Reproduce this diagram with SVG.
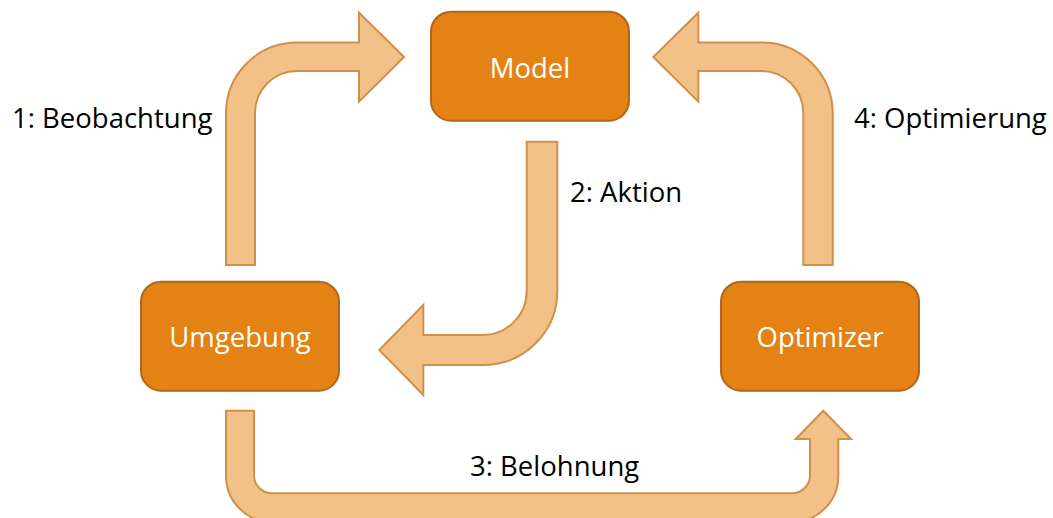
<svg xmlns="http://www.w3.org/2000/svg" width="1053" height="518" viewBox="0 0 1053 518">
  <style>
    .box { fill: #E48213; stroke: #B0661A; stroke-width: 2; }
    .box-label { fill: #FFFFFF; font-family: "Open Sans", "Noto Sans", sans-serif; font-size: 27.5px; text-anchor: middle; }
    .flow { fill: #F2C187; stroke: #CF9049; stroke-width: 2; stroke-linejoin: miter; }
    .flow-label { fill: #000000; font-family: "Open Sans", "Noto Sans", sans-serif; font-size: 27.5px; }
  </style>
  <rect width="1053" height="518" fill="#FFFFFF"/>

  <!-- connectors: block arrows between the stages of the loop -->
  <g id="connectors">
    <!-- 1: Umgebung -> Model (up, then right) -->
    <path id="arrow-beobachtung" class="flow"
          d="M226,265 L226,113.5 A71,71 0 0 1 297,42.5 L359,42.5 L359,12.7 L404,57 L359,101.7 L359,71 L297,71 A42,42 0 0 0 255,113 L255,265 Z"/>
    <!-- 2: Model -> Umgebung (down, then left) -->
    <path id="arrow-aktion" class="flow"
          d="M526.7,141.7 L557.3,141.7 L557.3,291 A74,74 0 0 1 483.3,365 L423.3,365 L423.3,395 L379.3,350 L423.3,305 L423.3,335 L482.7,335 A44,44 0 0 0 526.7,291 Z"/>
    <!-- 3: Umgebung -> Optimizer (down, across, up) -->
    <path id="arrow-belohnung" class="flow"
          d="M226,410.7 L254,410.7 L254,475.3 A18,18 0 0 0 272,493.3 L792,493.3 A18,18 0 0 0 810,475.3 L810,439 L795.7,439 L823.3,410.7 L851,439 L838.3,439 L838.3,476 A46,46 0 0 1 792.3,522 L272,522 A46,46 0 0 1 226,476 Z"/>
    <!-- 4: Optimizer -> Model (up, then left) -->
    <path id="arrow-optimierung" class="flow"
          d="M832.7,265 L832.7,113.5 A71,71 0 0 0 761.7,42.5 L698.3,42.5 L698.3,12.7 L653.3,57 L698.3,101.7 L698.3,71 L761.3,71 A42,42 0 0 1 803.3,113 L803.3,265 Z"/>

    <text class="flow-label" x="12" y="128">1: Beobachtung</text>
    <text class="flow-label" x="570" y="202">2: Aktion</text>
    <text class="flow-label" x="470" y="476">3: Belohnung</text>
    <text class="flow-label" x="854" y="128">4: Optimierung</text>
  </g>

  <!-- nodes -->
  <g id="node-model">
    <rect class="box" x="431" y="11.7" width="198" height="109" rx="20" ry="20"/>
    <text class="box-label" x="530" y="78">Model</text>
  </g>
  <g id="node-umgebung">
    <rect class="box" x="141" y="281.7" width="198" height="109" rx="20" ry="20"/>
    <text class="box-label" x="240" y="347">Umgebung</text>
  </g>
  <g id="node-optimizer">
    <rect class="box" x="721" y="281.7" width="198" height="109" rx="20" ry="20"/>
    <text class="box-label" x="820" y="347">Optimizer</text>
  </g>
</svg>
